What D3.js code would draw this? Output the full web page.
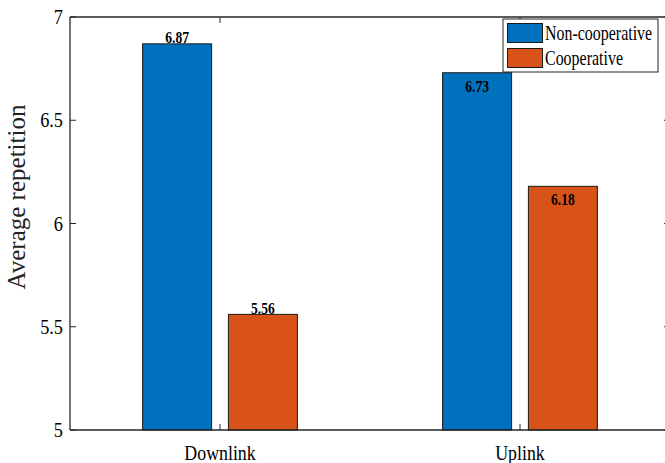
<!DOCTYPE html>
<html><head><meta charset="utf-8">
<script src="https://cdn.jsdelivr.net/npm/d3@7"></script>
<style>body{margin:0;background:#fff;} svg{display:block;}</style>
</head><body>
<svg id="c" width="665" height="463"></svg>
<script>
const categories = ["Downlink", "Uplink"];
const seriesNames = ["Non-cooperative", "Cooperative"];
const nonCoop = [6.87, 6.73];
const coop = [5.56, 6.18];
const yTicks = [5, 5.5, 6, 6.5, 7];
const yTickLabels = ["5", "5.5", "6", "6.5", "7"];
const labelInside = [[false, true], [false, true]]; // [series][category]
const colors = ["#0072BD", "#D95319"];

const svg = d3.select("#c");
const L = 70, R = 670, T = 17, B = 430;
const serif = "'Liberation Serif','Times New Roman',serif";
const axisCol = "#262626";

const x = d3.scaleLinear().domain([0.5, categories.length + 0.5]).range([L, R]);
const y = d3.scaleLinear().domain([5, 7]).range([B, T]);
const barW = 0.23, offs = [-0.143, 0.143];
const series = [nonCoop, coop];

function sText(g, tx, ty, str, size, sx, anchor, weight) {
  return g.append("g").attr("transform", `translate(${tx},${ty}) scale(${sx},1)`)
    .append("text").attr("text-anchor", anchor).attr("font-family", serif)
    .attr("font-size", size).attr("font-weight", weight || "normal").attr("fill", "#000").text(str);
}

// bars
series.forEach((vals, s) => {
  svg.append("g").selectAll("rect").data(vals).join("rect")
    .attr("x", (d, i) => x(i + 1 + offs[s] - barW / 2))
    .attr("width", x(barW) - x(0))
    .attr("y", d => y(d))
    .attr("height", d => y(5) - y(d))
    .attr("fill", colors[s]).attr("stroke", "#1a1a1a").attr("stroke-width", 1);
});

// value labels
const lab = svg.append("g");
series.forEach((vals, s) => {
  vals.forEach((v, i) => {
    const cx = x(i + 1 + offs[s]);
    const inside = labelInside[s][i];
    const ty = inside ? y(v) + 19 : y(v) - 0.5;
    sText(lab, cx, ty, v.toFixed(2), 17, 0.8, "middle", "bold");
  });
});

// axes box lines
[[L, R, B, B], [L, R, T, T], [L, L, T, B], [R, R, T, B]].forEach(([x1, x2, y1, y2]) =>
  svg.append("line").attr("x1", x1).attr("x2", x2).attr("y1", y1).attr("y2", y2)
    .attr("stroke", axisCol).attr("stroke-width", 1.3));

// y ticks
const yt = svg.append("g");
yTicks.forEach((t, i) => {
  yt.append("line").attr("x1", L).attr("x2", L + 6).attr("y1", y(t)).attr("y2", y(t)).attr("stroke", axisCol).attr("stroke-width", 1);
  yt.append("line").attr("x1", R - 6).attr("x2", R).attr("y1", y(t)).attr("y2", y(t)).attr("stroke", axisCol).attr("stroke-width", 1);
  sText(yt, 63, y(t) + 7, yTickLabels[i], 21, 0.87, "end");
});

// x ticks
const xt = svg.append("g");
categories.forEach((c, i) => {
  xt.append("line").attr("x1", x(i + 1)).attr("x2", x(i + 1)).attr("y1", B).attr("y2", B - 6).attr("stroke", axisCol).attr("stroke-width", 1);
  xt.append("line").attr("x1", x(i + 1)).attr("x2", x(i + 1)).attr("y1", T).attr("y2", T + 6).attr("stroke", axisCol).attr("stroke-width", 1);
  sText(xt, x(i + 1), 460, c, 21, 0.85, "middle");
});

// y label
svg.append("text").attr("transform", "translate(25,197) rotate(-90)")
  .attr("text-anchor", "middle").attr("font-family", serif).attr("font-size", 25)
  .attr("fill", "#222").text("Average repetition");

// legend
const lg = svg.append("g");
lg.append("rect").attr("x", 503).attr("y", 19).attr("width", 155).attr("height", 53)
  .attr("fill", "#fff").attr("stroke", axisCol).attr("stroke-width", 1);
seriesNames.forEach((n, i) => {
  lg.append("rect").attr("x", 507.5).attr("y", 23.5 + i * 25).attr("width", 35).attr("height", 19)
    .attr("fill", colors[i]).attr("stroke", "#1a1a1a").attr("stroke-width", 1);
  sText(lg, 545, 40 + i * 25, n, 21, 0.76, "start");
});
</script>
</body></html>
